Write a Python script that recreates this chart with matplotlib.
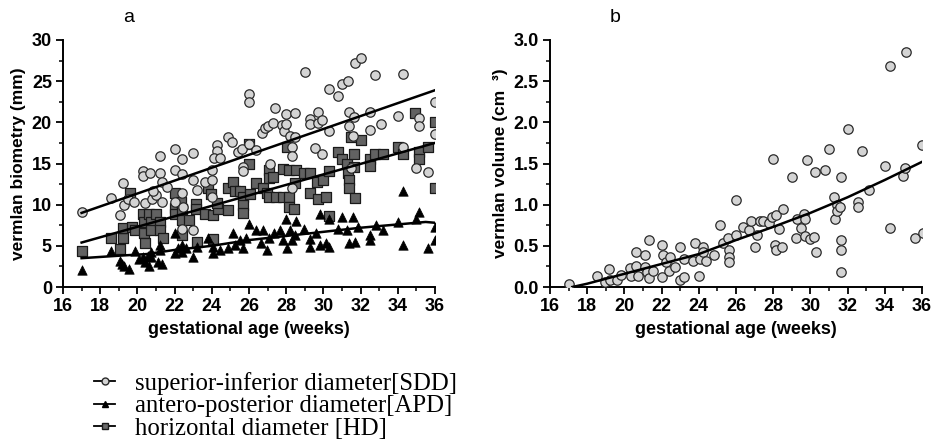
import matplotlib
matplotlib.use("Agg")
import matplotlib.pyplot as plt
from matplotlib.lines import Line2D
from matplotlib.ticker import MultipleLocator

# ---- panel a : vermian biometry (mm) ----
sdd_x = [17.0, 18.56, 19.2, 19.07, 19.3, 19.5, 19.8, 20.3, 20.3, 20.7, 21.2, 21.2, 20.4, 20.8, 21.0,
         21.3, 21.3, 20.85, 21.6, 22.0, 22.0, 22.4, 22.4, 22.4, 22.0, 22.45, 22.4, 23.0, 23.0, 23.0,
         23.2, 23.65, 24.0, 24.0, 24.0, 24.3, 24.3, 24.1, 24.45, 24.85, 25.1, 25.4, 25.6, 25.7, 25.7,
         26.0, 26.0, 26.0, 26.4, 26.7, 26.85, 27.0, 27.15, 27.4, 27.3, 27.8, 27.9, 28.0, 28.0, 28.2,
         28.3, 28.3, 28.3, 28.5, 28.5, 29.0, 29.3, 29.3, 29.7, 29.7, 29.55, 29.9, 29.9, 30.3, 30.3,
         30.8, 31.0, 31.3, 31.4, 31.4, 31.5, 31.6, 31.7, 32.0, 31.65, 32.5, 32.5, 32.8, 33.1, 34.0,
         34.3, 34.3, 35.0, 35.15, 35.15, 35.6, 36.0, 36.0]
sdd_y = [9.1, 10.8, 12.6, 8.7, 10.0, 10.7, 10.3, 14.1, 13.5, 13.8, 15.9, 13.9, 10.2, 10.7, 11.2,
         12.8, 10.3, 11.6, 12.2, 16.8, 14.2, 15.6, 13.7, 11.4, 10.3, 9.7, 7.0, 16.3, 13.0, 6.9,
         11.8, 12.8, 13.0, 14.2, 10.9, 17.3, 16.5, 15.7, 15.7, 18.2, 17.6, 16.4, 16.8, 14.6, 14.1,
         23.5, 22.5, 17.4, 16.6, 18.7, 19.3, 19.5, 15.0, 21.7, 19.9, 19.7, 19.0, 21.0, 19.8, 18.4,
         17.0, 15.9, 12.0, 21.1, 18.2, 26.1, 20.4, 19.8, 21.2, 19.9, 16.9, 20.3, 16.1, 19.0, 24.1,
         23.2, 24.6, 25.0, 21.3, 19.5, 14.4, 18.3, 27.2, 27.8, 20.7, 21.3, 19.1, 25.8, 19.8, 20.8,
         25.9, 17.0, 14.5, 20.5, 19.5, 14.0, 22.5, 18.6]

apd_x = [17.0, 18.56, 19.05, 19.15, 19.3, 19.55, 19.85, 20.3, 20.4, 20.65, 20.75, 20.75, 21.1, 21.2,
         21.3, 21.2, 20.1, 20.55, 22.0, 22.0, 22.2, 22.4, 22.4, 22.6, 23.0, 23.2, 23.8, 24.05, 24.05,
         24.45, 24.85, 25.15, 25.25, 25.5, 25.7, 25.85, 26.0, 26.4, 26.75, 26.65, 26.95, 27.1, 27.35,
         27.65, 27.85, 28.0, 28.05, 28.2, 28.3, 28.5, 28.55, 28.95, 29.3, 29.3, 29.6, 29.8, 29.8,
         30.15, 30.3, 30.3, 30.8, 31.0, 31.25, 31.4, 31.6, 31.7, 31.85, 32.5, 32.5, 32.85, 33.2,
         34.0, 34.3, 34.3, 35.0, 35.15, 35.6, 36.0, 36.0]
apd_y = [2.1, 4.4, 3.2, 2.8, 2.6, 2.2, 4.4, 3.6, 3.0, 2.6, 3.6, 4.3, 3.0, 4.5,
         2.8, 5.1, 3.4, 3.8, 4.1, 6.5, 4.7, 5.1, 4.3, 4.7, 3.6, 4.9, 5.9, 4.1, 4.9,
         4.5, 4.7, 6.6, 5.1, 5.7, 4.7, 6.0, 7.7, 6.9, 6.9, 5.4, 4.5, 5.9, 6.5,
         6.9, 5.7, 8.2, 4.7, 6.9, 5.7, 6.3, 8.0, 7.1, 4.9, 5.8, 6.5, 8.9, 5.1,
         5.3, 4.9, 8.3, 7.1, 8.5, 6.9, 5.4, 8.5, 5.5, 7.3, 6.3, 5.7, 7.5, 6.9,
         7.9, 11.6, 5.1, 8.3, 9.1, 4.7, 7.3, 5.7]

hd_x = [17.0, 18.56, 19.05, 19.2, 19.2, 19.6, 19.7, 19.85, 20.3, 20.35, 20.35, 20.4, 20.65, 20.75,
        20.75, 21.0, 21.2, 21.2, 21.35, 22.0, 22.0, 22.0, 22.35, 22.4, 22.4, 22.4, 22.75, 23.15,
        23.15, 23.2, 23.65, 23.8, 23.95, 24.05, 24.05, 24.35, 24.3, 24.85, 24.85, 25.15, 25.25,
        25.5, 25.7, 25.7, 25.7, 26.0, 26.0, 26.05, 26.4, 26.75, 26.95, 27.05, 27.05, 27.3, 27.1,
        27.45, 27.85, 27.85, 28.05, 28.15, 28.15, 28.15, 28.4, 28.55, 28.5, 28.95, 29.3, 29.3,
        29.65, 29.7, 30.0, 30.15, 30.3, 30.3, 30.8, 31.0, 31.25, 31.3, 31.4, 31.4, 31.5, 31.65,
        31.65, 31.7, 32.0, 32.5, 32.5, 32.8, 33.2, 34.0, 34.3, 34.9, 35.15, 35.15, 35.6, 36.0, 36.0]
hd_y = [4.4, 6.0, 4.6, 6.0, 7.2, 11.4, 7.3, 6.9, 8.9, 7.9, 6.5, 5.4, 8.9, 7.9,
        6.9, 8.9, 7.9, 6.9, 6.0, 11.4, 9.6, 8.9, 10.3, 9.5, 8.1, 6.3, 8.1, 10.1,
        9.5, 5.5, 8.9, 12.0, 11.3, 8.7, 5.8, 9.5, 10.2, 12.0, 9.3, 12.7, 11.7,
        11.6, 10.9, 9.9, 9.0, 17.4, 14.9, 11.3, 12.6, 12.0, 11.4, 14.2, 13.2, 13.4, 10.9,
        10.9, 10.9, 14.3, 17.0, 14.2, 10.9, 9.7, 9.5, 14.2, 12.6, 13.8, 13.8, 11.4,
        12.8, 10.7, 13.0, 10.9, 14.1, 8.6, 16.4, 15.5, 15.0, 13.8, 13.0, 12.0, 18.2, 16.2,
        14.6, 10.8, 17.8, 15.6, 14.7, 16.2, 16.2, 17.0, 16.2, 21.1, 16.4, 15.6, 17.0, 20.1, 12.0]

# regression lines
fit_x = [17, 36]
sdd_fit = [9.0, 23.9]
hd_fit = [5.4, 17.5]
apd_fit_x = [17, 19, 20.5, 22, 24, 26, 28, 30, 32, 34, 35.5, 36]
apd_fit_y = [3.5, 3.8, 4.0, 4.5, 5.0, 5.7, 6.2, 6.7, 7.2, 7.6, 7.9, 7.8]

# ---- panel b : vermian volume (cm3) ----
vol_x = [17.0, 18.55, 18.95, 19.15, 19.25, 19.6, 19.8, 20.3, 20.35, 20.65, 20.65, 20.75, 21.1, 21.1,
         21.2, 21.3, 21.3, 21.55, 22.0, 22.0, 22.1, 22.25, 22.4, 22.45, 22.7, 23.0, 23.0, 23.2,
         23.2, 23.7, 23.8, 24.0, 24.05, 24.25, 24.25, 24.4, 24.8, 25.15, 25.3, 25.55, 25.65, 25.65,
         25.65, 26.0, 26.0, 26.4, 26.7, 26.8, 27.0, 27.15, 27.3, 27.45, 27.75, 27.95, 28.0, 28.15,
         28.1, 28.15, 28.3, 28.45, 28.55, 29.0, 29.25, 29.3, 29.5, 29.65, 29.7, 29.7, 29.8, 30.0,
         30.2, 30.25, 30.3, 30.8, 31.0, 31.25, 31.3, 31.45, 31.45, 31.6, 31.65, 31.65, 31.65, 31.65,
         32.0, 32.55, 32.55, 32.8, 33.15, 34.0, 34.3, 34.3, 35.0, 35.1, 35.15, 35.65, 36.05, 36.0]
vol_y = [0.04, 0.13, 0.06, 0.22, 0.09, 0.09, 0.15, 0.23, 0.13, 0.43, 0.26, 0.13, 0.39, 0.24,
         0.18, 0.57, 0.11, 0.20, 0.51, 0.12, 0.39, 0.30, 0.20, 0.36, 0.24, 0.49, 0.09, 0.12,
         0.34, 0.32, 0.53, 0.13, 0.34, 0.49, 0.43, 0.32, 0.39, 0.75, 0.53, 0.59, 0.45, 0.36,
         0.30, 1.06, 0.63, 0.73, 0.69, 0.80, 0.49, 0.63, 0.80, 0.80, 0.78, 0.85, 1.55, 0.87,
         0.51, 0.45, 0.71, 0.49, 0.95, 1.34, 0.59, 0.83, 0.72, 0.89, 0.83, 0.62, 1.54, 0.58,
         0.61, 1.40, 0.42, 1.42, 1.68, 1.09, 0.83, 0.99, 0.92, 0.97, 1.34, 0.57, 0.45, 0.18,
         1.92, 1.03, 0.97, 1.65, 1.18, 1.47, 2.69, 0.72, 1.35, 1.45, 2.85, 0.60, 0.66, 1.72]
vol_fit_x = [17.2, 18, 20, 22, 24, 26, 28, 30, 32, 34, 36]
vol_fit_y = [0.0, 0.04, 0.16, 0.28, 0.40, 0.57, 0.73, 0.90, 1.09, 1.30, 1.52]

legend_labels = ["superior-inferior diameter[SDD]",
                 "antero-posterior diameter[APD]",
                 "horizontal diameter [HD]"]

plt.rcParams['font.family'] = ['Liberation Sans', 'DejaVu Sans']

fig = plt.figure(figsize=(9.36, 4.46), dpi=100)
ax1 = fig.add_axes([63/936, 159/446, 372/936, 247/446])
ax2 = fig.add_axes([550/936, 159/446, 372/936, 247/446])

circ = dict(marker='o', s=46, facecolor='#d4d4d4', edgecolor='#2a2a2a', linewidths=0.9, zorder=3)
sq = dict(marker='s', s=46, facecolor='#626262', edgecolor='#1a1a1a', linewidths=0.9, zorder=3)
tri = dict(marker='^', s=46, facecolor='black', edgecolor='black', linewidths=0.5, zorder=3)

ax1.scatter(hd_x, hd_y, **sq)
ax1.scatter(sdd_x, sdd_y, **circ)
ax1.scatter(apd_x, apd_y, **tri)
ax1.plot(fit_x, sdd_fit, color='black', lw=1.8, zorder=4)
ax1.plot(fit_x, hd_fit, color='black', lw=1.8, zorder=4)
ax1.plot(apd_fit_x, apd_fit_y, color='black', lw=1.8, zorder=4)

ax2.scatter(vol_x, vol_y, **circ)
ax2.plot(vol_fit_x, vol_fit_y, color='black', lw=1.8, zorder=4)

for ax in (ax1, ax2):
    ax.set_xlim(16, 36)
    ax.xaxis.set_major_locator(MultipleLocator(2))
    ax.xaxis.set_minor_locator(MultipleLocator(1))
    for s in ('top', 'right'):
        ax.spines[s].set_visible(False)
    for s in ('left', 'bottom'):
        ax.spines[s].set_linewidth(1.4)
    ax.tick_params(which='major', length=5, width=1.3, labelsize=13, pad=3)
    ax.tick_params(which='minor', length=3, width=1.1)
    ax.set_xlabel("gestational age (weeks)", fontsize=13, fontweight='bold', labelpad=4)

ax1.set_ylim(0, 30)
ax1.yaxis.set_major_locator(MultipleLocator(5))
ax1.yaxis.set_minor_locator(MultipleLocator(2.5))
ax1.set_ylabel("vermlan biometry (mm)", fontsize=12.5, fontweight='bold', labelpad=4)

ax2.set_ylim(0, 3.0)
ax2.yaxis.set_major_locator(MultipleLocator(0.5))
ax2.yaxis.set_minor_locator(MultipleLocator(0.25))
ax2.yaxis.set_major_formatter(matplotlib.ticker.FormatStrFormatter('%.1f'))
ax2.set_ylabel("vermlan volume (cm  \u00b3)", fontsize=12.5, fontweight='bold', labelpad=4)

for ax in (ax1, ax2):
    for lab in ax.get_xticklabels() + ax.get_yticklabels():
        lab.set_fontweight('bold')

fig.text(129/936, 1 - 18/446, "a", fontsize=14, ha='center', va='center')
fig.text(615/936, 1 - 18/446, "b", fontsize=14, ha='center', va='center')

handles = [
    Line2D([], [], color='black', lw=1.3, marker='o', markersize=5, markerfacecolor='#d4d4d4',
           markeredgecolor='#2a2a2a'),
    Line2D([], [], color='black', lw=1.3, marker='^', markersize=5, markerfacecolor='black'),
    Line2D([], [], color='black', lw=1.3, marker='s', markersize=5, markerfacecolor='#6a6a6a',
           markeredgecolor='#1a1a1a'),
]
fig.legend(handles, legend_labels, loc='upper left', bbox_to_anchor=(94/936, 1 - 372/446),
           frameon=False, prop={'family': 'Liberation Serif', 'size': 17.8},
           handlelength=0.85, handletextpad=0.8, labelspacing=0.0, borderpad=0,
           borderaxespad=0)

fig.savefig("out.png", dpi=100)
